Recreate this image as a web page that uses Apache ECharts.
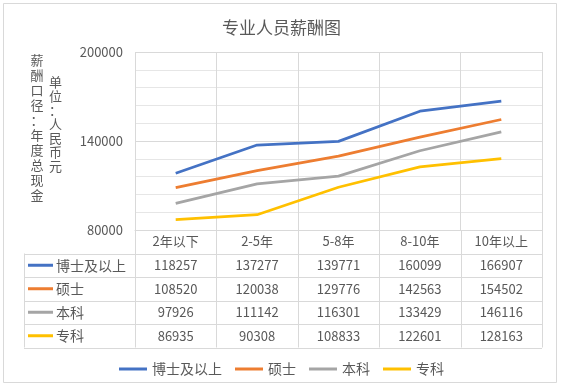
<!DOCTYPE html>
<html><head><meta charset="utf-8">
<script src="https://cdn.jsdelivr.net/npm/echarts@6/dist/echarts.min.js"></script>
<style>html,body{margin:0;padding:0;background:#fff}#c{width:563px;height:388px}</style>
</head><body><div id="c"></div>
<script>
const categories = ['2年以下', '2-5年', '5-8年', '8-10年', '10年以上'];
const seriesNames = ['博士及以上', '硕士', '本科', '专科'];
const doctorValues = [118257, 137277, 139771, 160099, 166907];
const masterValues = [108520, 120038, 129776, 142563, 154502];
const bachelorValues = [97926, 111142, 116301, 133429, 146116];
const collegeValues = [86935, 90308, 108833, 122601, 128163];
const yMin = 80000, yMax = 200000, yStep = 60000;
const titleText = '专业人员薪酬图';
const yName1 = '薪酬口径：年度总现金';
const yName2 = '单位：人民币元';

const valueRows = [doctorValues, masterValues, bachelorValues, collegeValues];
const colors = ['#4472C4', '#ED7D31', '#A5A5A5', '#FFC000'];
const FONT = '"Noto Sans CJK SC", sans-serif';
const TXT = '#595959', GRIDC = '#d9d9d9';

const chart = echarts.init(document.getElementById('c'), null, {renderer: 'canvas'});
const option = {
  animation: false,
  backgroundColor: '#fff',
  title: {text: titleText, left: 'center', top: 14,
    textStyle: {fontSize: 17, fontWeight: 'normal', color: TXT, fontFamily: FONT}},
  legend: {data: seriesNames, left: 'center', top: 357, icon: 'rect', itemWidth: 28, itemHeight: 3, itemGap: 13,
    textStyle: {fontSize: 14, color: TXT, fontFamily: FONT}},
  grid: {left: 135, right: 21, top: 52, height: 178},
  xAxis: {type: 'category', data: categories, boundaryGap: true,
    axisLine: {lineStyle: {color: GRIDC}}, axisTick: {show: false},
    splitLine: {show: true, lineStyle: {color: GRIDC}},
    axisLabel: {margin: 5, fontSize: 13, color: TXT, fontFamily: FONT, interval: 0}},
  yAxis: {type: 'value', min: yMin, max: yMax, interval: yStep,
    minorTick: {show: false, splitNumber: 5},
    minorSplitLine: {show: true, lineStyle: {color: '#e6e6e6'}},
    splitLine: {lineStyle: {color: GRIDC}}, axisLine: {show: false}, axisTick: {show: false},
    axisLabel: {margin: 12, fontSize: 13, color: TXT, fontFamily: FONT, formatter: v => String(v)}},
  series: seriesNames.map((n, i) => ({name: n, type: 'line', data: valueRows[i], symbol: 'none',
    lineStyle: {width: 2.75, color: colors[i]}, itemStyle: {color: colors[i]}}))
};
chart.setOption(option);

// data table built from the axis scale
const yBottom = chart.convertToPixel({yAxisIndex: 0}, yMin);
const c0 = chart.convertToPixel({xAxisIndex: 0}, categories[0]);
const c1 = chart.convertToPixel({xAxisIndex: 0}, categories[1]);
const colW = c1 - c0;
const tableLeft = 24;
const rowH = 23.5;
const px = v => Math.round(v) + 0.5;
const g = [];
const leftEdge = c0 - colW / 2;
const rightEdge = c0 + colW * (categories.length - 0.5);
const tableBottom = yBottom + rowH * (valueRows.length + 1);
for (let k = 1; k <= valueRows.length + 1; k++) {
  const y = px(yBottom + rowH * k);
  g.push({type: 'line', shape: {x1: tableLeft, y1: y, x2: rightEdge, y2: y}, style: {stroke: GRIDC, lineWidth: 1}});
}
for (let i = 0; i <= categories.length; i++) {
  const x = px(leftEdge + colW * i);
  g.push({type: 'line', shape: {x1: x, y1: yBottom, x2: x, y2: tableBottom}, style: {stroke: GRIDC, lineWidth: 1}});
}
g.push({type: 'line', shape: {x1: px(tableLeft), y1: yBottom + rowH, x2: px(tableLeft), y2: tableBottom}, style: {stroke: GRIDC, lineWidth: 1}});
valueRows.forEach((row, r) => {
  const yc = yBottom + rowH * (r + 1.5);
  g.push({type: 'line', shape: {x1: 28, y1: yc, x2: 53, y2: yc}, style: {stroke: colors[r], lineWidth: 3}});
  g.push({type: 'text', x: 56, y: yc, style: {text: seriesNames[r], fontSize: 14, fill: TXT, fontFamily: FONT, textAlign: 'left', textVerticalAlign: 'middle'}});
  row.forEach((v, i) => {
    const xc = chart.convertToPixel({xAxisIndex: 0}, categories[i]);
    g.push({type: 'text', x: xc, y: yc, style: {text: String(v), fontSize: 13, fill: TXT, fontFamily: FONT, textAlign: 'center', textVerticalAlign: 'middle'}});
  });
});
// vertical axis names
g.push({type: 'text', x: 37, y: 53, style: {text: yName1.split('').join('\n'), fontSize: 13, lineHeight: 15, fill: TXT, fontFamily: FONT, textAlign: 'center'}});
g.push({type: 'text', x: 55.5, y: 75, style: {text: yName2.split('').join('\n'), fontSize: 13, lineHeight: 14, fill: TXT, fontFamily: FONT, textAlign: 'center'}});
// frame
g.push({type: 'rect', shape: {x: 3.5, y: 3.5, width: 553, height: 379}, style: {fill: 'none', stroke: GRIDC, lineWidth: 1}});
chart.setOption({graphic: g});
</script></body></html>
